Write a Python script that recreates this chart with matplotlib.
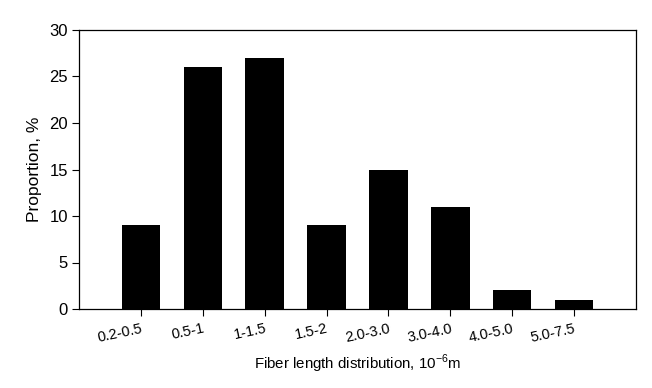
import numpy as np
import matplotlib.pyplot as plt

plt.rcParams['font.family'] = ['Liberation Sans', 'DejaVu Sans']
plt.rcParams['mathtext.fontset'] = 'custom'
plt.rcParams['mathtext.rm'] = 'Liberation Sans'

categories = ['0.2-0.5', '0.5-1', '1-1.5', '1.5-2', '2.0-3.0', '3.0-4.0', '4.0-5.0', '5.0-7.5']
proportion = [9, 26, 27, 9, 15, 11, 2, 1]

fig = plt.figure(figsize=(6.52, 3.88), dpi=100)
ax = fig.add_axes([79/652, 1-309/388, (636-79)/652, (309-30)/388])

x = np.arange(len(categories))
ax.bar(x, proportion, width=0.62, color='black')

ax.set_xlim(-1, len(categories))
ax.set_ylim(0, 30)
ax.set_yticks(range(0, 31, 5))
ax.set_xticks(x)
ax.set_xticklabels(categories, rotation=12, ha='right', rotation_mode='anchor', fontsize=10.5)
ax.tick_params(axis='y', labelsize=12, length=5, width=0.8, pad=3)
ax.tick_params(axis='x', length=5, width=0.8, pad=4)
for s in ax.spines.values():
    s.set_linewidth(0.9)

ax.set_ylabel('Proportion, %', fontsize=12.5, labelpad=5)
ax.set_xlabel(r'Fiber length distribution, 10$^{\mathregular{-6}}$m', fontsize=10.8, labelpad=6)

fig.savefig('out.png', dpi=100)
